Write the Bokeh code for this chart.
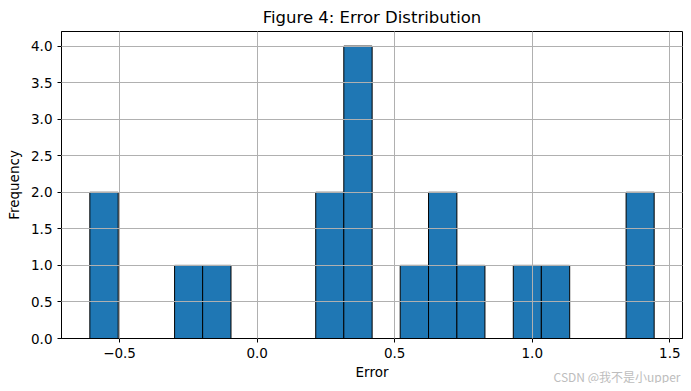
from bokeh.plotting import figure
from bokeh.models import FixedTicker, Range1d, Title
from bokeh.embed import file_html
from bokeh.resources import INLINE

# Histogram data (20 bins)
bin_edges = [-0.608, -0.505, -0.403, -0.300, -0.198, -0.095, 0.008, 0.110, 0.213, 0.315,
             0.418, 0.520, 0.623, 0.726, 0.828, 0.931, 1.033, 1.136, 1.238, 1.341, 1.443]
counts = [2, 0, 0, 1, 1, 0, 0, 0, 2, 4, 0, 1, 2, 1, 0, 1, 1, 0, 0, 2]
x_ticks = [-0.5, 0.0, 0.5, 1.0, 1.5]
x_tick_labels = ["\u22120.5", "0.0", "0.5", "1.0", "1.5"]
y_ticks = [0.0, 0.5, 1.0, 1.5, 2.0, 2.5, 3.0, 3.5, 4.0]
y_tick_labels = ["0.0", "0.5", "1.0", "1.5", "2.0", "2.5", "3.0", "3.5", "4.0"]
watermark = "CSDN @我不是小upper"

lefts = [bin_edges[i] for i in range(len(counts)) if counts[i] > 0]
rights = [bin_edges[i + 1] for i in range(len(counts)) if counts[i] > 0]
tops = [c for c in counts if c > 0]

FONT = "DejaVu Sans"

p = figure(width=683, height=383, output_backend="svg", toolbar_location=None,
           title="Figure 4: Error Distribution",
           x_range=Range1d(-0.711, 1.546), y_range=Range1d(0, 4.2),
           min_border_left=61, min_border_right=1, min_border_top=30, min_border_bottom=45)

p.quad(left=lefts, right=rights, top=tops, bottom=0,
       fill_color="#1f77b4", line_color="black", line_width=1)

p.title.align = "center"
p.title.text_font = FONT
p.title.text_font_size = "16.5px"
p.title.text_font_style = "normal"
p.title.text_color = "black"

p.outline_line_color = "black"
p.outline_line_width = 1

for ax in (p.xaxis[0], p.yaxis[0]):
    ax.major_label_text_font = FONT
    ax.major_label_text_font_size = "13.5px"
    ax.major_label_text_color = "black"
    ax.axis_label_text_font = FONT
    ax.axis_label_text_font_size = "13.5px"
    ax.axis_label_text_font_style = "normal"
    ax.axis_label_text_color = "black"
    ax.axis_line_color = "black"
    ax.major_tick_line_color = "black"
    ax.major_tick_out = 4
    ax.major_tick_in = 0
    ax.minor_tick_line_color = None

p.xaxis.axis_label = "Error"
p.yaxis.axis_label = "Frequency"
p.xaxis.ticker = FixedTicker(ticks=x_ticks)
p.yaxis.ticker = FixedTicker(ticks=y_ticks)
p.xaxis.major_label_overrides = dict(zip(x_ticks, x_tick_labels))
p.yaxis.major_label_overrides = dict(zip(y_ticks, y_tick_labels))
p.xaxis.axis_label_standoff = 3
p.yaxis.axis_label_standoff = 6

for g in (p.xgrid[0], p.ygrid[0]):
    g.grid_line_color = "#b0b0b0"
    g.grid_line_width = 1
    g.level = "overlay"

wm = Title(text=watermark, align="right", vertical_align="top",
           text_font="Noto Sans CJK SC", text_font_size="12px",
           text_font_style="normal", text_color="#bdbdbd",
           standoff=-30, offset=2)
p.add_layout(wm, "below")

open("out.html", "w").write(file_html(p, INLINE))
